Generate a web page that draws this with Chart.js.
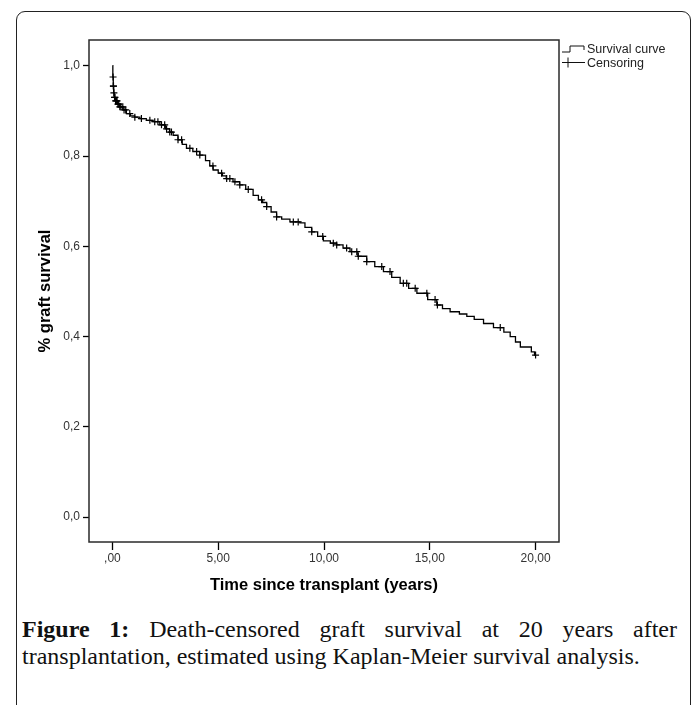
<!DOCTYPE html>
<html>
<head>
<meta charset="utf-8">
<script src="https://cdn.jsdelivr.net/npm/chart.js@4.4.1/dist/chart.umd.min.js"></script>
<style>
  html, body { margin: 0; padding: 0; background: #fff; width: 694px; height: 705px; overflow: hidden; }
  #frame { position: absolute; left: 16px; top: 11px; width: 675px; height: 730px;
           border: 1.5px solid #222; border-radius: 9px; box-sizing: border-box; }
  #chartBox { position: absolute; left: 0; top: 0; width: 694px; height: 600px; }
  .cap { position: absolute; left: 22px; width: 655px; white-space: nowrap;
         font-family: 'Liberation Serif', 'Times New Roman', serif; font-size: 24px; line-height: 27px; color: #111; }
  #cap1 { top: 616px; text-align: justify; text-align-last: justify; }
  #cap2 { top: 643px; text-align: left; }
  .cap b { font-weight: bold; }
</style>
</head>
<body>
<div id="frame"></div>
<div id="chartBox"><canvas id="km"></canvas></div>
<div class="cap" id="cap1"><b>Figure 1:</b> Death-censored graft survival at 20 years after</div>
<div class="cap" id="cap2">transplantation, estimated using Kaplan-Meier survival analysis.</div>

<script>
// ── Kaplan-Meier: death-censored graft survival ─────────────────
// event times (years) and survival
const times = [
    0, 0.02, 0.04, 0.06, 0.08, 0.15, 0.25, 0.35, 0.5, 0.66,
    0.85, 1.05, 1.3, 1.6, 1.92, 2.24, 2.5, 2.7, 2.87, 3.1,
    3.3, 3.5, 3.8, 4.13, 4.4, 4.6, 4.76, 5.0, 5.2, 5.38,
    5.7, 6.01, 6.3, 6.65, 6.9, 7.1, 7.29, 7.5, 7.76, 8.0,
    8.39, 8.86, 9.1, 9.42, 9.7, 9.97, 10.3, 10.6, 10.9, 11.23,
    11.6, 12.02, 12.4, 12.81, 13.2, 13.6, 14.0, 14.39, 14.9, 15.33,
    15.6, 15.96, 16.4, 16.75, 17.1, 17.54, 18.01, 18.5, 18.8, 19.05,
    19.28, 19.8, 19.95, 20.0
];
const survival = [
    1.000, 0.975, 0.955, 0.940, 0.930, 0.922, 0.915, 0.909, 0.902, 0.894,
    0.889, 0.886, 0.883, 0.879, 0.876, 0.869, 0.860, 0.853, 0.846, 0.836,
    0.826, 0.817, 0.810, 0.802, 0.790, 0.778, 0.769, 0.762, 0.756, 0.750,
    0.743, 0.736, 0.726, 0.713, 0.703, 0.697, 0.688, 0.676, 0.665, 0.660,
    0.654, 0.652, 0.642, 0.632, 0.622, 0.612, 0.607, 0.603, 0.596, 0.588,
    0.578, 0.566, 0.555, 0.544, 0.531, 0.518, 0.507, 0.496, 0.482, 0.470,
    0.462, 0.455, 0.450, 0.445, 0.438, 0.429, 0.420, 0.410, 0.400, 0.388,
    0.377, 0.366, 0.359, 0.359
];
// censored observations (years)
const censorTimes = [
    0.03, 0.045, 0.05, 0.07, 0.1, 0.12, 0.15, 0.19, 0.22, 0.26,
    0.3, 0.35, 0.4, 0.49, 0.55, 0.63, 0.82, 1.06, 1.37, 1.77,
    2.0, 2.15, 2.32, 2.47, 2.56, 2.71, 2.79, 3.1, 3.27, 3.66,
    3.98, 4.13, 4.75, 5.16, 5.4, 5.55, 5.79, 6.02, 6.42, 7.05,
    7.29, 7.76, 8.55, 8.78, 9.42, 9.94, 10.44, 10.6, 11.07, 11.31,
    11.55, 11.62, 12.02, 12.73, 13.12, 13.75, 13.91, 14.31, 14.86, 15.25,
    15.36, 18.33, 20.0
];

const xTickValues = [0, 5, 10, 15, 20];
const xTickLabels = [',00', '5,00', '10,00', '15,00', '20,00'];
const yTickValues = [0, 0.2, 0.4, 0.6, 0.8, 1.0];
const yTickLabels = ['0,0', '0,2', '0,4', '0,6', '0,8', '1,0'];
const legendLabels = ['Survival curve', 'Censoring'];

const SANS = "'Liberation Sans', Arial, sans-serif";

// step function lookup: survival at time t
function survivalAt(t) {
    let s = survival[0];
    for (let i = 0; i < times.length; i++) {
        if (times[i] <= t) s = survival[i]; else break;
    }
    return s;
}

// plot box + SPSS style legend
const framePlugin = {
    id: 'plotFrame',
    beforeDatasetsDraw(chart) {
        const { ctx, chartArea: a } = chart;
        ctx.save();
        ctx.strokeStyle = '#2a2a2a';
        ctx.lineWidth = 1.5;
        ctx.strokeRect(a.left, a.top, a.right - a.left, a.bottom - a.top);
        ctx.restore();
    },
    afterDraw(chart) {
        const { ctx, chartArea: a } = chart;
        const x0 = a.right + 3;
        const y1 = a.top + 10, y2 = a.top + 24;
        ctx.save();
        ctx.strokeStyle = '#111';
        ctx.lineWidth = 1;
        ctx.beginPath();
        ctx.moveTo(x0, y1 + 2); ctx.lineTo(x0 + 8, y1 + 2);
        ctx.lineTo(x0 + 8, y1 - 4); ctx.lineTo(x0 + 22, y1 - 4);
        ctx.lineTo(x0 + 22, y1);
        ctx.moveTo(x0, y2 - 1.5); ctx.lineTo(x0 + 23, y2 - 1.5);
        ctx.moveTo(x0 + 6, y2 - 6.5); ctx.lineTo(x0 + 6, y2 + 3.5);
        ctx.stroke();
        ctx.fillStyle = '#222';
        ctx.font = '12.5px ' + SANS;
        ctx.textBaseline = 'middle';
        ctx.fillText(legendLabels[0], x0 + 25, y1);
        ctx.fillText(legendLabels[1], x0 + 25, y2);
        ctx.restore();
    }
};

new Chart(document.getElementById('km'), {
    type: 'scatter',
    data: {
        datasets: [
            {
                type        : 'line',
                label       : legendLabels[0],
                data        : times.map((t, i) => ({ x: t, y: survival[i] })),
                stepped     : true,
                borderColor : '#000',
                borderWidth : 1.3,
                pointRadius : 0,
                fill        : false
            },
            {
                label       : legendLabels[1],
                data        : censorTimes.map(t => ({ x: t, y: survivalAt(t) })),
                pointStyle  : 'cross',
                pointRadius : 3.5,
                borderColor : '#000',
                borderWidth : 1.2,
                showLine    : false
            }
        ]
    },
    options: {
        responsive         : true,
        maintainAspectRatio: false,
        animation          : false,
        devicePixelRatio   : 1,
        layout: { padding: { left: 0, top: 40, right: 135, bottom: 0 } },
        plugins: {
            legend : { display: false },
            tooltip: { enabled: false }
        },
        scales: {
            x: {
                type: 'linear', min: -1.107, max: 21.107,
                afterBuildTicks: s => { s.ticks = xTickValues.map(v => ({ value: v })); },
                afterFit: s => { s.height = 58; },
                border: { display: false },
                grid  : { drawOnChartArea: false, drawTicks: true, tickLength: 8, tickColor: '#000', tickWidth: 1.3 },
                ticks : {
                    padding: 1, color: '#333', maxRotation: 0, autoSkip: false,
                    font: { family: SANS, size: 12 },
                    callback: v => xTickLabels[xTickValues.indexOf(v)] ?? ''
                },
                title: {
                    display: true, text: 'Time since transplant (years)', color: '#000',
                    font: { family: SANS, size: 16.5, weight: 'bold' },
                    padding: { top: 0, bottom: 5 }
                }
            },
            y: {
                type: 'linear', min: -0.055, max: 1.057,
                afterBuildTicks: s => { s.ticks = yTickValues.map(v => ({ value: v })); },
                afterFit: s => { s.width = 89; },
                border: { display: false },
                grid  : { drawOnChartArea: false, drawTicks: true, tickLength: 6, tickColor: '#000', tickWidth: 1.3 },
                ticks : {
                    padding: 3, color: '#333', autoSkip: false,
                    font: { family: SANS, size: 12 },
                    callback: v => yTickLabels[yTickValues.indexOf(v)] ?? ''
                },
                title: {
                    display: true, text: '% graft survival', color: '#000',
                    font: { family: SANS, size: 16.5, weight: 'bold' },
                    padding: { top: 36, bottom: 0 }
                }
            }
        }
    },
    plugins: [framePlugin]
});
</script>
</body>
</html>
